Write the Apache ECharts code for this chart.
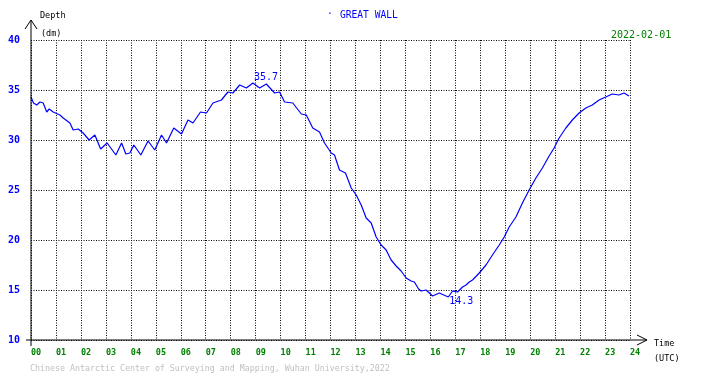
<!DOCTYPE html>
<html>
<head>
<meta charset="utf-8">
<script src="https://cdn.jsdelivr.net/npm/echarts@6/dist/echarts.min.js"></script>
<style>
	html, body { margin: 0; padding: 0; background: #fff; }
	#chart { width: 710px; height: 378px; }
</style>
</head>
<body>
<div id="chart"></div>
<script>
	// tide gauge depth (dm) against time (UTC hours)
	var hours = [0.0, 0.1, 0.23, 0.36, 0.49, 0.63, 0.73, 0.89, 1.16, 1.29, 1.56, 1.69, 1.89, 2.09, 2.33, 2.56, 2.79, 3.05, 3.4, 3.63,
		3.8, 3.96, 4.12, 4.4, 4.69, 4.96, 5.23, 5.43, 5.72, 6.03, 6.29, 6.49, 6.79, 7.03, 7.29, 7.63, 7.89, 8.09, 8.36, 8.63,
		8.89, 9.16, 9.43, 9.76, 9.96, 10.16, 10.49, 10.83, 11.03, 11.29, 11.56, 11.76, 12.03, 12.16, 12.36, 12.6, 12.83, 13.03, 13.23, 13.43,
		13.63, 13.83, 14.03, 14.23, 14.43, 14.63, 14.83, 15.03, 15.23, 15.36, 15.53, 15.63, 15.83, 16.09, 16.36, 16.63, 16.72, 16.89, 17.09, 17.29,
		17.43, 17.56, 17.69, 17.96, 18.23, 18.49, 18.76, 18.96, 19.16, 19.43, 19.69, 19.96, 20.23, 20.49, 20.76, 20.96, 21.16, 21.43, 21.69, 21.96,
		22.23, 22.49, 22.76, 23.03, 23.29, 23.56, 23.76, 23.96];
	var depth = [34.3, 33.7, 33.5, 33.8, 33.7, 32.8, 33.1, 32.8, 32.5, 32.2, 31.7, 31.0, 31.1, 30.7, 30.0, 30.5, 29.1, 29.7, 28.5, 29.7,
		28.6, 28.7, 29.5, 28.5, 29.9, 29.0, 30.5, 29.7, 31.2, 30.6, 32.0, 31.7, 32.8, 32.7, 33.7, 34.0, 34.8, 34.7, 35.5, 35.2,
		35.7, 35.2, 35.6, 34.7, 34.8, 33.8, 33.7, 32.6, 32.5, 31.2, 30.8, 29.7, 28.7, 28.5, 27.0, 26.7, 25.2, 24.5, 23.5, 22.2,
		21.7, 20.3, 19.5, 19.0, 18.0, 17.4, 16.9, 16.2, 15.9, 15.8, 15.1, 14.9, 15.0, 14.4, 14.7, 14.4, 14.3, 14.9, 14.8, 15.3,
		15.5, 15.8, 16.0, 16.7, 17.5, 18.5, 19.5, 20.3, 21.3, 22.3, 23.7, 25.0, 26.2, 27.2, 28.4, 29.2, 30.2, 31.2, 32.0, 32.7,
		33.2, 33.5, 34.0, 34.3, 34.6, 34.5, 34.7, 34.4];
	var hourTicks = ['00','01','02','03','04','05','06','07','08','09','10','11','12','13','14','15','16','17','18','19','20','21','22','23','24'];
	var stationName = 'GREAT WALL';
	var dateText = '2022-02-01';

	var mono = '"DejaVu Sans Mono", monospace';
	var points = hours.map(function(h, i){ return [h, depth[i]]; });

	var myChart = echarts.init(document.getElementById('chart'));
	var option = {
		animation: false,
		backgroundColor: '#fff',
		grid: { left: 31, right: 80, top: 40, bottom: 38 },
		xAxis: {
			type: 'value',
			min: 0,
			max: 24,
			interval: 1,
			axisLine: { show: false },
			axisTick: { show: false },
			axisLabel: {
				color: '#008000',
				fontFamily: mono,
				fontSize: 8.5,
				fontWeight: 'bold',
				align: 'left',
				margin: 8,
				formatter: function(v){ return hourTicks[v]; }
			},
			splitLine: { show: true, lineStyle: { color: '#000', type: [1, 1.5], width: 1 } }
		},
		yAxis: {
			type: 'value',
			min: 10,
			max: 40,
			interval: 5,
			axisLine: { show: false },
			axisTick: { show: false },
			axisLabel: {
				color: '#0000ff',
				fontFamily: mono,
				fontSize: 10,
				fontWeight: 'bold',
				margin: 11
			},
			splitLine: { show: true, lineStyle: { color: '#000', type: [1, 1.5], width: 1 } }
		},
		series: [{
			type: 'line',
			data: points,
			symbol: 'none',
			lineStyle: { color: '#0000ff', width: 1.2 },
			markPoint: {
				symbol: 'circle',
				symbolSize: 0,
				label: {
					show: true,
					color: '#0000ff',
					fontFamily: mono,
					fontSize: 10,
					align: 'left',
					formatter: function(p){ return p.value.toFixed(1); }
				},
				data: [
					{ type: 'max', label: { offset: [1, -6] } },
					{ type: 'min', label: { offset: [1, 4] } }
				]
			}
		}],
		graphic: [
			// y axis with open arrow
			{ type: 'polyline', z: 100, shape: { points: [[31, 346], [31, 20]] }, style: { stroke: '#000', lineWidth: 1, fill: null } },
			{ type: 'polyline', z: 100, shape: { points: [[25, 29], [31, 20], [37, 29]] }, style: { stroke: '#000', lineWidth: 1, fill: null } },
			// x axis with open arrow
			{ type: 'polyline', z: 100, shape: { points: [[26, 340], [647, 340]] }, style: { stroke: '#000', lineWidth: 1, fill: null } },
			{ type: 'polyline', z: 100, shape: { points: [[637, 335], [647, 340], [637, 345]] }, style: { stroke: '#000', lineWidth: 1, fill: null } },
			{ type: 'text', left: 40, top: 11, style: { text: 'Depth', font: '8.5px ' + mono, fill: '#000' } },
			{ type: 'text', left: 41, top: 29, style: { text: '(dm)', font: '8.5px ' + mono, fill: '#000' } },
			{ type: 'text', left: 654, top: 339, style: { text: 'Time', font: '8.5px ' + mono, fill: '#000' } },
			{ type: 'text', left: 654, top: 354, style: { text: '(UTC)', font: '8.5px ' + mono, fill: '#000' } },
			{ type: 'text', left: 327, top: 9, style: { text: '·', font: '9.6px ' + mono, fill: '#0000ff' } },
			{ type: 'text', left: 340, top: 10, style: { text: stationName, font: '9.6px ' + mono, fill: '#0000ff' } },
			{ type: 'text', left: 611, top: 30, style: { text: dateText, font: '10px ' + mono, fill: '#008000' } },
			{ type: 'text', left: 30, top: 365, style: { text: 'Chinese Antarctic Center of Surveying and Mapping, Wuhan University,2022', font: '8.3px ' + mono, fill: '#c0c0c0' } }
		]
	};
	myChart.setOption(option);
</script>
</body>
</html>
